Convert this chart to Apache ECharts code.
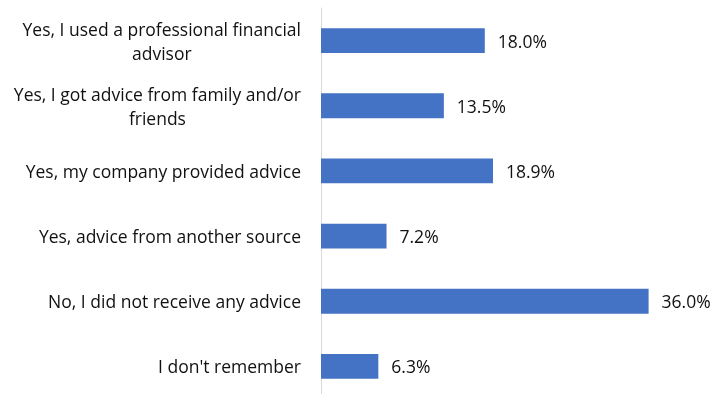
<!DOCTYPE html>
<html>
<head>
<meta charset="utf-8">
<script src="https://cdn.jsdelivr.net/npm/echarts@6/dist/echarts.min.js"></script>
<style>
  html, body { margin: 0; padding: 0; background: #fff; overflow: hidden; }
  #chart { width: 713px; height: 394px; }
</style>
</head>
<body>
<div id="chart"></div>
<script>
// Survey answers (top to bottom) and the share of respondents for each
const categories = [
  'Yes, I used a professional financial\nadvisor',
  'Yes, I got advice from family and/or\nfriends',
  'Yes, my company provided advice',
  'Yes, advice from another source',
  'No, I did not receive any advice',
  "I don't remember"
];
const shares = [18.0, 13.5, 18.9, 7.2, 36.0, 6.3];

const FONT = 'Open Sans';
const SIZE = 17.5;

const chart = echarts.init(document.getElementById('chart'));
chart.setOption({
  animation: false,
  grid: {
    left: 321, top: 8, width: 364, height: 391,
    containLabel: false, outerBoundsMode: 'none'
  },
  xAxis: {
    type: 'value', min: 0, max: 40,
    show: false
  },
  yAxis: {
    type: 'category',
    data: categories,
    inverse: true,
    axisLine: { show: true, lineStyle: { color: '#d9d9d9', width: 1 } },
    axisTick: { show: false },
    axisLabel: {
      margin: 20,
      align: 'right',
      // each line of a wrapped answer is centred under the one above it
      formatter: v => v.split('\n').map(s => '{c|' + s + '}').join('\n'),
      rich: {
        c: {
          align: 'center',
          color: '#111',
          fontFamily: FONT,
          fontSize: SIZE,
          lineHeight: 24,
          padding: [4, 0, 0, 0]
        }
      }
    }
  },
  series: [{
    type: 'bar',
    data: shares,
    barWidth: '38%',
    itemStyle: { color: '#4472C4' },
    label: {
      show: true,
      position: 'right',
      distance: 13,
      offset: [0, 2],
      color: '#111',
      fontFamily: FONT,
      fontSize: SIZE,
      formatter: p => p.value.toFixed(1) + '%'
    }
  }]
});
</script>
</body>
</html>
